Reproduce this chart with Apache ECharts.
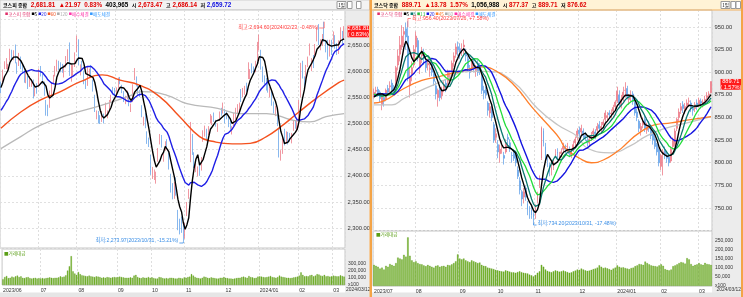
<!DOCTYPE html>
<html><head><meta charset="utf-8">
<script src="https://cdn.jsdelivr.net/npm/echarts/dist/echarts.min.js"></script>
<style>html,body{margin:0;padding:0;background:#fff;overflow:hidden}#c{width:743px;height:297px}</style>
</head><body><div id="c"></div>
<script>
// ---------------- DATA ----------------
const tradingDays = {
  '2023/06':[1,2,5,7,8,9,12,13,14,15,16,19,20,21,22,23,26,27,28,29,30],
  '2023/07':[3,4,5,6,7,10,11,12,13,14,17,18,19,20,21,24,25,26,27,28,31],
  '2023/08':[1,2,3,4,7,8,9,10,11,14,16,17,18,21,22,23,24,25,28,29,30,31],
  '2023/09':[1,4,5,6,7,8,11,12,13,14,15,18,19,20,21,22,25,26,27],
  '2023/10':[4,5,6,10,11,12,13,16,17,18,19,20,23,24,25,26,27,30,31],
  '2023/11':[1,2,3,6,7,8,9,10,13,14,15,16,17,20,21,22,23,24,27,28,29,30],
  '2023/12':[1,4,5,6,7,8,11,12,13,14,15,18,19,20,21,22,26,27,28],
  '2024/01':[2,3,4,5,8,9,10,11,12,15,16,17,18,19,22,23,24,25,26,29,30,31],
  '2024/02':[1,2,5,6,7,8,13,14,15,16,19,20,21,22,23,26,27,28,29],
  '2024/03':[4,5,6,7,8,11,12]
};
const kospiMonths = ['2023/06','2023/07','2023/08','2023/09','2023/10','2023/11','2023/12','2024/01','2024/02','2024/03'];
const kosdaqMonths = ['2023/07','2023/08','2023/09','2023/10','2023/11','2023/12','2024/01','2024/02','2024/03'];

// KOSPI daily [open, close, low, high]
const kospiCandles = [
 [2571,2569,2558,2580],[2580,2601,2576,2603],[2612,2615,2604,2619],[2616,2616,2604,2625],[2610,2611,2599,2614],[2622,2641,2620,2643],[2636,2629,2621,2641],[2634,2638,2621,2640],[2647,2619,2615,2651],[2609,2609,2595,2617],[2614,2626,2610,2635],[2624,2609,2604,2628],[2606,2605,2596,2612],[2603,2583,2578,2605],[2583,2594,2577,2598],[2585,2570,2566,2591],[2578,2582,2570,2590],[2577,2582,2570,2584],[2583,2550,2548,2584],[2556,2564,2552,2569],[2566,2564,2557,2577],
 [2576,2602,2570,2605],[2603,2593,2590,2610],[2590,2579,2575,2595],[2572,2556,2553,2580],[2534,2526,2515,2545],[2529,2520,2514,2536],[2532,2562,2530,2563],[2560,2574,2555,2578],[2586,2591,2576,2593],[2597,2599,2590,2610],[2606,2619,2600,2622],[2617,2607,2602,2620],[2616,2608,2598,2617],[2609,2600,2597,2614],[2597,2609,2588,2612],[2611,2628,2607,2629],[2627,2636,2619,2642],[2647,2593,2591,2655],[2593,2603,2580,2612],[2603,2608,2590,2612],[2612,2632,2608,2636],
 [2637,2667,2636,2668],[2659,2616,2611,2661],[2598,2605,2592,2613],[2610,2602,2600,2620],[2590,2580,2575,2601],[2579,2573,2566,2584],[2580,2605,2572,2608],[2591,2601,2589,2605],[2610,2591,2589,2612],[2575,2570,2561,2584],[2551,2525,2522,2555],[2511,2519,2508,2525],[2520,2505,2500,2524],[2509,2508,2499,2516],[2506,2516,2503,2524],[2516,2505,2500,2519],[2519,2537,2515,2540],[2518,2519,2510,2525],[2528,2543,2524,2545],[2548,2552,2540,2555],[2565,2561,2556,2570],[2561,2556,2552,2568],
 [2562,2563,2550,2569],[2570,2584,2567,2588],[2584,2582,2575,2589],[2570,2563,2558,2574],[2558,2548,2541,2562],[2546,2547,2537,2553],[2552,2556,2546,2563],[2556,2536,2533,2559],[2530,2534,2522,2538],[2544,2572,2541,2575],[2585,2601,2583,2606],[2588,2574,2571,2590],[2569,2559,2555,2574],[2560,2559,2551,2564],[2533,2514,2512,2535],[2505,2508,2496,2513],[2516,2495,2491,2520],[2484,2462,2461,2485],[2466,2465,2455,2473],
 [2437,2405,2402,2440],[2402,2403,2394,2417],[2403,2408,2392,2412],[2390,2402,2385,2408],[2428,2450,2427,2453],[2464,2479,2460,2480],[2475,2456,2454,2478],[2429,2436,2427,2443],[2450,2460,2448,2466],[2468,2462,2455,2470],[2443,2415,2412,2448],[2400,2375,2368,2404],[2370,2357,2355,2386],[2360,2383,2356,2388],[2392,2363,2362,2397],[2332,2299,2296,2335],[2307,2302,2288,2318],[2312,2310,2291,2322],[2297,2277,2273.97,2311],
 [2288,2301,2280,2310],[2326,2343,2323,2350],[2366,2368,2356,2375],[2426,2502,2426,2503],[2480,2443,2440,2480],[2438,2421,2415,2445],[2415,2427,2407,2431],[2407,2409,2399,2418],[2425,2403,2400,2427],[2415,2433,2410,2436],[2468,2486,2465,2487],[2486,2488,2475,2496],[2481,2469,2466,2490],[2486,2491,2478,2495],[2505,2511,2500,2518],[2500,2510,2497,2515],[2519,2514,2503,2521],[2503,2496,2494,2507],[2487,2495,2484,2500],[2509,2521,2505,2523],[2524,2522,2515,2530],[2530,2535,2519,2540],
 [2525,2505,2500,2528],[2519,2514,2508,2523],[2512,2495,2493,2514],[2497,2495,2488,2505],[2487,2492,2479,2495],[2496,2517,2494,2520],[2519,2525,2508,2530],[2527,2535,2520,2537],[2526,2537,2522,2540],[2562,2544,2541,2566],[2560,2563,2550,2568],[2562,2566,2555,2572],[2575,2568,2561,2578],[2588,2614,2585,2617],[2591,2600,2585,2604],[2611,2599,2596,2615],[2606,2602,2593,2609],[2604,2613,2598,2620],[2624,2655,2620,2656],
 [2645,2669,2640,2670],[2634,2607,2603,2641],[2605,2587,2579,2609],[2589,2578,2575,2592],[2583,2567,2563,2587],[2575,2561,2559,2582],[2552,2562,2550,2570],[2560,2540,2534,2563],[2538,2525,2519,2542],[2524,2525,2514,2534],[2520,2497,2495,2525],[2490,2436,2435,2491],[2430,2440,2429,2449],[2448,2472,2442,2476],[2478,2464,2458,2490],[2472,2478,2462,2485],[2474,2469,2460,2484],[2477,2470,2465,2482],[2474,2478,2462,2482],[2490,2500,2486,2505],[2498,2498,2490,2506],[2494,2497,2485,2508],
 [2496,2542,2494,2545],[2553,2615,2550,2616],[2612,2591,2586,2620],[2579,2576,2568,2590],[2585,2609,2581,2612],[2618,2620,2608,2628],[2637,2649,2630,2653],[2611,2620,2600,2625],[2627,2613,2606,2631],[2630,2648,2625,2652],[2660,2680,2657,2684],[2683,2657,2650,2690],[2649,2653,2640,2661],[2658,2664,2648,2671],[2670,2667,2656,2694.6],[2659,2647,2636,2660],[2656,2625,2622,2660],[2630,2658,2628,2660],[2651,2642,2631,2660],
 [2654,2674,2652,2676],[2662,2649,2643,2669],[2651,2641,2631,2654],[2638,2647,2633,2659],[2660,2680,2658,2684],[2671,2660,2652,2677],[2673.47,2681.81,2659.72,2686.14]
];
const kospiPrevCloses = [2500,2501,2491,2510,2496,2491,2475,2479,2480,2494,2515,2537,2557,2568,2565,2554,2558,2585,2577];
const kospiVolume = [
 80000,110000,125000,95000,100000,115000,105000,120000,130000,110000,120000,100000,95000,105000,110000,95000,90000,95000,100000,90000,95000,
 90000,95000,90000,95000,100000,105000,100000,95000,100000,100000,105000,120000,110000,115000,135000,200000,260000,400000,190000,160000,140000,
 180000,150000,135000,130000,125000,120000,130000,120000,115000,110000,120000,115000,110000,100000,105000,100000,110000,105000,100000,105000,110000,105000,
 110000,115000,110000,105000,100000,100000,100000,105000,100000,130000,140000,110000,100000,95000,105000,100000,100000,110000,100000,
 105000,95000,90000,90000,110000,105000,95000,90000,95000,90000,100000,100000,95000,90000,90000,100000,95000,90000,105000,
 100000,110000,115000,150000,130000,110000,100000,95000,90000,100000,115000,110000,100000,95000,105000,100000,95000,90000,90000,100000,100000,110000,
 100000,95000,90000,90000,85000,90000,95000,100000,100000,110000,115000,105000,100000,125000,110000,105000,95000,100000,115000,
 120000,115000,110000,105000,110000,115000,125000,110000,105000,100000,110000,130000,115000,110000,105000,100000,100000,95000,100000,105000,110000,115000,
 130000,175000,140000,120000,125000,120000,135000,140000,120000,130000,150000,145000,130000,125000,140000,120000,125000,115000,120000,
 130000,125000,120000,120000,135000,125000,115000
];
const kospiMA60 = [['2023/06/01',2491],['2023/06/19',2522],['2023/07/04',2545],['2023/07/19',2561],['2023/08/03',2580],['2023/08/22',2593],['2023/09/05',2583],['2023/09/20',2573],['2023/10/12',2551],['2023/10/27',2513],['2023/11/13',2475],['2023/11/22',2466],['2023/12/07',2461],['2023/12/21',2462],['2024/01/08',2475],['2024/01/18',2494],['2024/02/01',2522],['2024/02/19',2549],['2024/03/07',2578],['2024/03/12',2583]];
const kospiMA120 = [['2023/06/01',2452],['2023/06/19',2475],['2023/07/04',2497],['2023/07/25',2516],['2023/08/22',2535],['2023/09/13',2554],['2023/09/21',2561],['2023/10/18',2554],['2023/11/02',2538],['2023/11/27',2529],['2023/12/13',2519],['2024/01/08',2519],['2024/01/29',2506],['2024/02/13',2503],['2024/02/26',2513],['2024/03/12',2519]];

// KOSDAQ daily [open, close, low, high]
const kosdaqCandles = [
 [875,878,871,882],[879,880,874,884],[881,877,873,884],[878,871,867,880],[864,874,858,876],[872,868,862,876],[870,880,868,882],[882,878,874,886],[884,885,878,890],[888,880,876,892],[882,881,874,886],[884,905,882,907],[908,918,902,925],[920,930,912,940],[928,940,925,952],[942,945,930,950],[948,939,925,955],[940,895,890,956.4],[885,895,872,905],[898,905,890,912],[908,925,905,930],
 [928,940,922,945],[935,917,912,938],[905,915,898,920],[918,920,910,928],[922,915,908,926],[912,905,900,918],[908,910,902,915],[903,905,895,910],[910,900,896,914],[898,890,885,902],[885,876,870,890],[872,880,862,882],[882,872,868,886],[874,880,870,884],[882,886,878,890],[888,885,878,892],[890,900,886,903],[892,896,888,900],[900,910,896,913],[912,918,906,922],[920,928,916,932],[928,925,918,934],
 [926,922,915,932],[925,925,918,932],[928,930,920,936],[922,918,912,926],[915,905,900,918],[902,900,893,908],[903,912,900,915],[910,905,900,914],[902,905,895,908],[910,900,896,914],[905,902,897,910],[896,880,876,898],[880,877,870,885],[880,875,871,884],[866,858,852,868],[855,862,850,866],[860,850,846,864],[842,825,822,845],[828,832,822,838],
 [820,812,805,825],[810,815,800,820],[818,818,810,824],[808,805,798,812],[812,822,810,826],[828,826,820,832],[822,815,812,826],[808,808,800,812],[812,805,802,815],[808,800,796,812],[792,785,782,796],[780,770,765,784],[768,760,752,770],[762,768,755,772],[772,762,758,775],[755,748,742,758],[745,744,738,752],[748,742,738,752],[744,740,734.2,748],
 [742,750,738,754],[758,765,755,768],[775,782,772,786],[805,839,803,840],[835,822,818,838],[818,803,800,822],[800,800,795,806],[798,790,785,800],[792,795,786,798],[796,800,792,804],[808,810,805,815],[812,810,804,816],[806,808,802,812],[810,812,806,816],[815,818,812,822],[816,815,810,820],[818,818,812,822],[815,810,806,818],[808,812,805,815],[815,820,812,824],[822,826,818,829],[828,835,825,838],
 [836,832,828,840],[834,838,830,842],[835,830,826,838],[830,828,824,834],[825,822,818,828],[822,826,818,829],[828,830,824,834],[832,835,828,838],[834,832,826,837],[836,840,832,844],[842,838,834,846],[838,840,834,845],[842,845,838,848],[848,855,845,858],[850,852,846,856],[855,853,849,858],[854,855,849,859],[857,861,853,864],[862,867,859,869],
 [868,879,866,884],[875,866,862,880],[864,870,860,875],[872,878,868,884],[880,880,872,889],[882,873,870,885],[870,872,864,876],[874,875,868,880],[876,868,864,879],[866,855,852,868],[856,850,846,860],[846,838,834,848],[836,840,830,844],[842,845,838,850],[848,838,834,852],[836,840,832,844],[842,838,834,846],[836,830,826,840],[832,825,820,834],[826,818,815,830],[820,812,808,822],[814,800,796,816],
 [796,808,792,810],[810,812,786,815],[814,810,804,818],[808,805,800,812],[806,800,796,810],[802,815,800,818],[818,825,815,828],[820,835,818,838],[838,848,835,850],[850,856,846,860],[858,862,854,866],[864,860,855,868],[858,862,854,866],[862,866,858,870],[868,868,862,872],[866,860,856,869],[860,858,852,863],[860,864,856,867],[866,862,858,870],
 [865,869,862,872],[868,866,860,871],[866,867,861,870],[868,870,864,874],[872,874,868,878],[875,876,870,879],[877.37,889.71,876.62,889.71]
];
const kosdaqPrevCloses = [860,866,868,872,877,878,885,887,885,881,878,872,872,870,876,875,866,871,874];
const kosdaqVolume = [
 115000,110000,105000,95000,100000,90000,110000,105000,120000,115000,110000,125000,155000,150000,145000,170000,160000,265000,165000,140000,130000,
 135000,125000,120000,118000,112000,108000,115000,110000,105000,100000,110000,112000,105000,108000,110000,105000,115000,112000,118000,125000,135000,172000,
 150000,145000,150000,140000,135000,130000,140000,135000,130000,125000,128000,115000,110000,108000,100000,98000,95000,92000,88000,
 85000,82000,80000,78000,85000,82000,78000,75000,74000,72000,76000,80000,75000,72000,70000,68000,62000,58000,52000,
 60000,72000,80000,115000,105000,90000,82000,78000,75000,80000,85000,82000,78000,80000,84000,80000,76000,72000,74000,80000,84000,90000,
 88000,95000,90000,85000,82000,84000,88000,92000,95000,100000,113000,105000,98000,100000,96000,92000,88000,95000,100000,
 112000,105000,100000,102000,98000,95000,92000,98000,100000,108000,112000,120000,118000,115000,133000,125000,118000,112000,110000,108000,106000,112000,
 118000,110000,92000,88000,85000,90000,108000,112000,118000,125000,130000,128000,122000,152000,145000,120000,110000,115000,118000,
 125000,118000,115000,126000,120000,118000,115000
];
const kosdaqMA45 = [['2023/07/03',866],['2023/07/07',867.5],['2023/07/24',882],['2023/08/04',891],['2023/08/17',895],['2023/09/01',900.6],['2023/09/18',906],['2023/10/05',899],['2023/10/18',884],['2023/10/30',862],['2023/11/10',840],['2023/11/17',827],['2023/11/22',816],['2023/12/01',805],['2023/12/11',800],['2023/12/19',803],['2024/01/03',814],['2024/01/08',820],['2024/01/17',833],['2024/01/29',842],['2024/02/08',844],['2024/02/22',847],['2024/03/12',851]];
const kosdaqMA60 = [['2023/07/03',864],['2023/07/14',864],['2023/07/24',871],['2023/08/17',888],['2023/09/11',901],['2023/09/21',901],['2023/10/16',891],['2023/11/02',860],['2023/11/16',842],['2023/11/30',829],['2023/12/07',816],['2023/12/26',811],['2024/01/10',818],['2024/01/23',830],['2024/02/05',838],['2024/02/22',844],['2024/03/12',851]];

// header texts
const kospiHeader = ['코스피 종합','2,681.81','▲21.97','0.83%','403,965','시','2,673.47','고','2,686.14','저','2,659.72'];
const kosdaqHeader = ['코스닥 종합','889.71','▲13.78','1.57%','1,056,988','시','877.37','고','889.71','저','876.62'];
// legend entries [label, colour]
const kospiLegend = [['코스피 종합','#e0306a'],['5','#000000'],['20','#1f1fe6'],['60','#f4511e'],['120','#aaaaaa'],['매수체결','#ff33aa'],['매도체결','#3399ff']];
const kosdaqLegend = [['코스닥 종합','#e0306a'],['5','#000000'],['8','#0b7a70'],['13','#22bb3a'],['20','#1414e0'],['45','#ff7f2a'],['60','#aaaaaa'],['매수체결','#ff33aa'],['매도체결','#3399ff']];

// ---------------- HELPERS ----------------
function datesOf(months){const o=[];months.forEach(m=>tradingDays[m].forEach(d=>o.push(m+'/'+String(d).padStart(2,'0'))));return o;}
const kospiDates = datesOf(kospiMonths), kosdaqDates = datesOf(kosdaqMonths);
function monthStarts(dates){return dates.map((d,i)=>i===0||d.slice(0,7)!==dates[i-1].slice(0,7));}
const kospiMS = monthStarts(kospiDates), kosdaqMS = monthStarts(kosdaqDates);
function monthLabel(dates,i){const y=dates[i].slice(0,4),m=dates[i].slice(5,7);return (i===0||m==='01')?y+'/'+m:m;}
function ma(candles, prev, n){
  const all = prev.concat(candles.map(c=>c[1])); const off = prev.length;
  return candles.map((c,i)=>{const e=off+i,s=e-n+1; if(s<0) return null; let t=0; for(let k=s;k<=e;k++) t+=all[k]; return +(t/n).toFixed(2);});
}
const f2 = v => v.toLocaleString('en-US',{minimumFractionDigits:2,maximumFractionDigits:2});
const f0 = v => v.toLocaleString('en-US');
const FF = '"Liberation Sans","Noto Sans CJK KR",sans-serif';
const KF = '"Noto Sans CJK KR",sans-serif';
const UP='#ee7d8a', DOWN='#6aa6ea';

const chart = echarts.init(document.getElementById('c'), null, {width:743,height:297});

const gridStyle = {show:true, borderColor:'#c6c6c6', borderWidth:1, backgroundColor:'#ffffff'};
const hSplit = {show:true, lineStyle:{color:'#e0e0e0', type:[2,2], width:1}};
function xAx(g, dates, ms, showLabel){
  return {gridIndex:g, type:'category', data:dates, boundaryGap:true,
    axisLine:{show:false}, axisTick:{show:false},
    axisLabel:{show:showLabel, interval:(i)=>ms[i], formatter:(v,i)=>monthLabel(dates,i), align:'left', margin:2.5,
      fontSize:5.2, fontFamily:FF, color:'#333'},
    splitLine:{show:true, interval:(i)=>ms[i], lineStyle:{color:'#dedede', type:[2,2], width:1}}};
}
function candle(xi, data, bw){
  return {type:'candlestick', xAxisIndex:xi, yAxisIndex:xi, data, barWidth:bw,
    itemStyle:{color:UP, color0:DOWN, borderColor:UP, borderColor0:DOWN, borderWidth:0.8}, z:2};
}
function lineS(xi, data, color, w, smooth){
  return {type:'line', xAxisIndex:xi, yAxisIndex:xi, data, showSymbol:false, symbol:'none', smooth:!!smooth,
    lineStyle:{color, width:w}, z:3, connectNulls:true};
}
function volS(xi, data){
  return {type:'bar', xAxisIndex:xi, yAxisIndex:xi, data, barWidth:'72%', itemStyle:{color:'#72b424', borderColor:'#559118', borderWidth:0.3}, z:2};
}
const yLab = {fontSize:5.8, fontFamily:FF, color:'#333', margin:2.5, showMinLabel:false, showMaxLabel:false};
const vLab = {fontSize:5, fontFamily:FF, color:'#333', margin:3, showMinLabel:true, showMaxLabel:false};

chart.setOption({
  animation:false,
  backgroundColor:'#ffffff',
  grid:[
    Object.assign({left:0, top:10, width:345, height:238}, gridStyle),
    Object.assign({left:0, top:249, width:345, height:36}, gridStyle),
    Object.assign({left:373, top:10, width:339, height:220.6}, gridStyle),
    Object.assign({left:373, top:231, width:339, height:55}, gridStyle)
  ],
  xAxis:[ xAx(0,kospiDates,kospiMS,false), xAx(1,kospiDates,kospiMS,true), xAx(2,kosdaqDates,kosdaqMS,false), xAx(3,kosdaqDates,kosdaqMS,true) ],
  yAxis:[
    {gridIndex:0, type:'value', position:'right', min:2262, max:2717, splitNumber:9, axisLine:{show:false}, axisTick:{show:false},
      axisLabel:Object.assign({formatter:v=> v>2690?'':f2(v)}, yLab), splitLine:hSplit},
    {gridIndex:1, type:'value', position:'right', min:0, max:500000, interval:100000, axisLine:{show:false}, axisTick:{show:false},
      axisLabel:Object.assign({formatter:v=> v===0?'x100':(v<=300000?f0(v):'')}, vLab), splitLine:{show:false}},
    {gridIndex:2, type:'value', position:'right', min:725, max:968.8, interval:25, axisLine:{show:false}, axisTick:{show:false},
      axisLabel:Object.assign({formatter:f2}, yLab), splitLine:hSplit},
    {gridIndex:3, type:'value', position:'right', min:0, max:300000, interval:50000, axisLine:{show:false}, axisTick:{show:false},
      axisLabel:Object.assign({formatter:v=> v===0?'x100':(v<300000?f0(v):'')}, vLab), splitLine:{show:false}}
  ],
  series:[
    candle(0, kospiCandles, 1.3),
    lineS(0, kospiMA120, '#b9b9b9', 1.3, 0.4),
    lineS(0, kospiMA60, '#f4511e', 1.4, 0.4),
    lineS(0, ma(kospiCandles,kospiPrevCloses,20), '#1f1fe6', 1.4),
    lineS(0, ma(kospiCandles,kospiPrevCloses,5), '#000000', 1.4),
    volS(1, kospiVolume),
    candle(2, kosdaqCandles, 1.4),
    lineS(2, kosdaqMA60, '#c4c4c4', 1.3, 0.4),
    lineS(2, kosdaqMA45, '#ff7f2a', 1.3, 0.4),
    lineS(2, ma(kosdaqCandles,kosdaqPrevCloses,20), '#1414e0', 1.4),
    lineS(2, ma(kosdaqCandles,kosdaqPrevCloses,13), '#22dd3a', 1.3),
    lineS(2, ma(kosdaqCandles,kosdaqPrevCloses,8), '#0b7a70', 1.3),
    lineS(2, ma(kosdaqCandles,kosdaqPrevCloses,5), '#000000', 1.4),
    volS(3, kosdaqVolume)
  ]
});

// ---------------- DECORATION ----------------
const G=[];
const rect=(x,y,w,h,fill,stroke,z)=>G.push({type:'rect',z:(z===undefined?-10:z),silent:true,shape:{x,y,width:w,height:h},style:{fill:fill||'none',stroke:stroke||null,lineWidth:stroke?1:0}});
const txt=(x,y,t,fill,font,align,z)=>G.push({type:'text',z:(z===undefined?20:z),silent:true,style:{x,y,text:t,fill,font:font||('5.5px '+FF),align:align||'left',verticalAlign:'middle'}});
const pl=(pts,stroke,w)=>G.push({type:'polyline',z:20,silent:true,shape:{points:pts},style:{stroke,lineWidth:w||1,fill:null}});
const rich=(x,y,t,richDef,font)=>G.push({type:'text',z:20,silent:true,style:{x,y,text:t,rich:richDef,font:font||('5px '+FF),align:'left',verticalAlign:'middle'}});

// axis area backgrounds
rect(345,10,24.5,283,'#ececec');
rect(712,10,29,283,'#ececec');
// headers
rect(0,0,369.5,10,'#f3f3f3','#cfcfcf');
rect(372,0,369,10,'#fff3d6');
pl([[372,10],[741,10]],'#f0b060',1);
// bottom strips
rect(0,292.5,369.5,4.5,'#e6e6e6');
rect(372,292.5,369,4.5,'#e6e6e6');
// dividers
rect(369.5,0,2.5,297,'#f4a447',null,30);
rect(741,0,2,297,'#f4a447',null,30);

// header texts (one rich line, colours per item)
const NUMF='bold 6.3px '+FF, KORF='bold 5px '+KF;
function header(x0, items, colors){
  const richDef={}; let s='';
  items.forEach((t,i)=>{
    const key='h'+i; richDef[key]={fill:colors[i], font:/[가-힣]/.test(t)?KORF:NUMF};
    const gap = i===0 ? '' : ((items[i-1]==='시'||items[i-1]==='고'||items[i-1]==='저') ? ' ' : '  ');
    s += gap + '{'+key+'|'+t+'}';
  });
  rich(x0,5,s,richDef,NUMF);
}
header(3,kospiHeader,['#000','#e00000','#e00000','#e00000','#000','#000','#e00000','#000','#e00000','#000','#1010e0']);
header(374,kosdaqHeader,['#000','#e00000','#e00000','#e00000','#000','#000','#e00000','#000','#e00000','#000','#e00000']);
// window buttons
[[337,'1일'],[721,'1일']].forEach(([x,t])=>{rect(x,1.5,9,7,'#ffffff','#9a9a9a',15);txt(x+4.5,5,t,'#000','4.5px '+KF,'center');});
[[347.5],[356.5],[731],[736]].forEach(([x])=>{rect(x,1.5,4.5,7,'#ffffff','#9a9a9a',15);});

// legends: small square + coloured label
function legend(x0, entries){
  const LF='4.6px '+KF, SQ='3.2px '+KF;
  const richDef={}; let s='';
  entries.forEach(([t,c],i)=>{ richDef['s'+i]={fill:c,font:SQ}; richDef['t'+i]={fill:c,font:LF};
    s += (i?' ':'')+'{s'+i+'|■}{t'+i+'|'+t+'}'; });
  rich(x0,14,s,richDef,LF);
}
legend(5,kospiLegend);
legend(377,kosdaqLegend);
txt(4,253,'■거래대금','#5a9e16','4.6px '+KF);
txt(376,234,'■거래대금','#5a9e16','4.6px '+KF);
// end date labels
txt(346,290,'2024/03/12','#333','4.9px '+FF);
txt(716.5,290,'2024/03/12','#333','4.9px '+FF);

// annotations (positions through the axes)
const px=(i,cat,v)=>chart.convertToPixel({xAxisIndex:i,yAxisIndex:i},[cat,v]);
const AF='5.2px '+FF;
let p=px(0,'2024/02/23',2694.6);
txt(p[0]-6,28,'최고:2,694.60(2024/02/23, -0.48%)','#ff3b3b',AF,'right');
pl([[p[0]-5,28],[p[0],28],[p[0],p[1]]],'#ff6b6b',0.8);
p=px(0,'2023/10/31',2273.97);
txt(p[0]-5,240.5,'최저:2,273.97(2023/10/31, -15.21%)','#3a8ee6',AF,'right');
pl([[p[0]-4,243],[p[0],243],[p[0],p[1]]],'#3a8ee6',0.8);
p=px(2,'2023/07/26',956.4);
txt(p[0]+4,18.5,'최고:956.40(2023/07/26, +7.58%)','#ff3b3b',AF,'left');
pl([[p[0]+3,18.5],[p[0],18.5],[p[0],p[1]+6]],'#ff6b6b',0.8);
p=px(2,'2023/10/31',734.2);
txt(p[0]+4,223.5,'최저:734.20(2023/10/31, -17.48%)','#3a8ee6',AF,'left');
pl([[p[0],p[1]],[p[0],225],[p[0]+3,225]],'#3a8ee6',0.8);

// current price boxes
p=px(0,'2024/03/12',2681.81);
rect(347.5,p[1]-2.7,21.5,11.6,'#ff1a1a',null,25);
txt(358.3,p[1]+0.2,'2,681.81','#ffffff','5.6px '+FF,'center',26);
txt(358.3,p[1]+5.8,'( 0.83%)','#ffffff','5.6px '+FF,'center',26);
p=px(2,'2024/03/12',889.71);
rect(720.5,p[1]-2.6,20.5,10.8,'#ff1a1a',null,25);
txt(730.8,p[1]+0.2,'889.71','#ffffff','5.6px '+FF,'center',26);
txt(730.8,p[1]+5.4,'( 1.57%)','#ffffff','5.6px '+FF,'center',26);

chart.setOption({graphic:{elements:G}});
</script></body></html>
